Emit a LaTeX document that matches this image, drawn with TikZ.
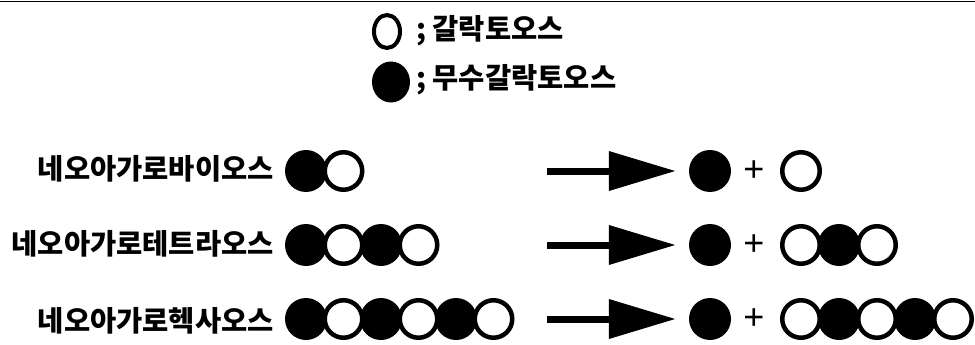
\documentclass[tikz,border=0pt]{standalone}
\usepackage{fontspec}
\newfontfamily\kr{Noto Sans CJK KR}
\newfontfamily\lsans{Liberation Sans}
\usetikzlibrary{shapes.geometric,arrows.meta}
\begin{document}
\begin{tikzpicture}[x=1pt,y=-1pt,
  fc/.style={circle,fill=black,minimum size=42pt,inner sep=0pt},
  oc/.style={circle,draw=black,line width=4.5pt,minimum size=37.5pt,inner sep=0pt},
  lab/.style={font=\kr\bfseries\fontsize{28.5}{32}\selectfont,inner sep=0pt},
  plussign/.style={font=\lsans\fontsize{36}{40}\selectfont,inner sep=0pt},
  arr/.style={line width=7pt,-{Triangle[length=67pt,width=38pt]}}]
\useasboundingbox[fill=white] (0,0) rectangle (975,345);
\draw[line width=1.5pt] (0,1.5) -- (975,1.5);

% legend
\node[ellipse,draw=black,line width=4pt,minimum width=26pt,minimum height=33pt,inner sep=0pt] (lo) at (387,31.5) {};
\node[ellipse,fill=black,minimum width=38pt,minimum height=41pt,inner sep=0pt] (lf) at (391,82) {};
\node[lab,anchor=west] (lt1) at (416,31) {; 갈락토오스};
\node[lab,anchor=west] (lt2) at (416,80) {; 무수갈락토오스};

% row 1
\node[lab,anchor=east] (t1) at (274,169) {네오아가로바이오스};
\node[fc] (a11) at (306,171) {};
\node[oc] (a12) at (343.5,171) {};
\coordinate (s1) at (547,171);
\node[fc] (b1) at (710,171) {};
\node[plussign] (p1) at (754,171) {+};
\node[oc] (c11) at (801,171) {};
\draw[arr] (s1) -- ([xshift=-13pt]b1.west);

% row 2
\node[lab,anchor=east] (t2) at (274,244) {네오아가로테트라오스};
\node[fc] (a21) at (306,245) {};
\node[oc] (a22) at (343.5,245) {};
\node[fc] (a23) at (381,245) {};
\node[oc] (a24) at (418.5,245) {};
\coordinate (s2) at (547,245);
\node[fc] (b2) at (710,245) {};
\node[plussign] (p2) at (754,245) {+};
\node[oc] (c21) at (801,245) {};
\node[fc] (c22) at (839,245) {};
\node[oc] (c23) at (877,245) {};
\draw[arr] (s2) -- ([xshift=-13pt]b2.west);

% row 3
\node[lab,anchor=east] (t3) at (274,321) {네오아가로헥사오스};
\node[fc] (a31) at (306,319) {};
\node[oc] (a32) at (343.5,319) {};
\node[fc] (a33) at (381,319) {};
\node[oc] (a34) at (418.5,319) {};
\node[fc] (a35) at (456,319) {};
\node[oc] (a36) at (493.5,319) {};
\coordinate (s3) at (547,319);
\node[fc] (b3) at (710,319) {};
\node[plussign] (p3) at (754,319) {+};
\node[oc] (c31) at (801,319) {};
\node[fc] (c32) at (839,319) {};
\node[oc] (c33) at (877,319) {};
\node[fc] (c34) at (915,319) {};
\node[oc] (c35) at (953,319) {};
\draw[arr] (s3) -- ([xshift=-13pt]b3.west);
\end{tikzpicture}
\end{document}
